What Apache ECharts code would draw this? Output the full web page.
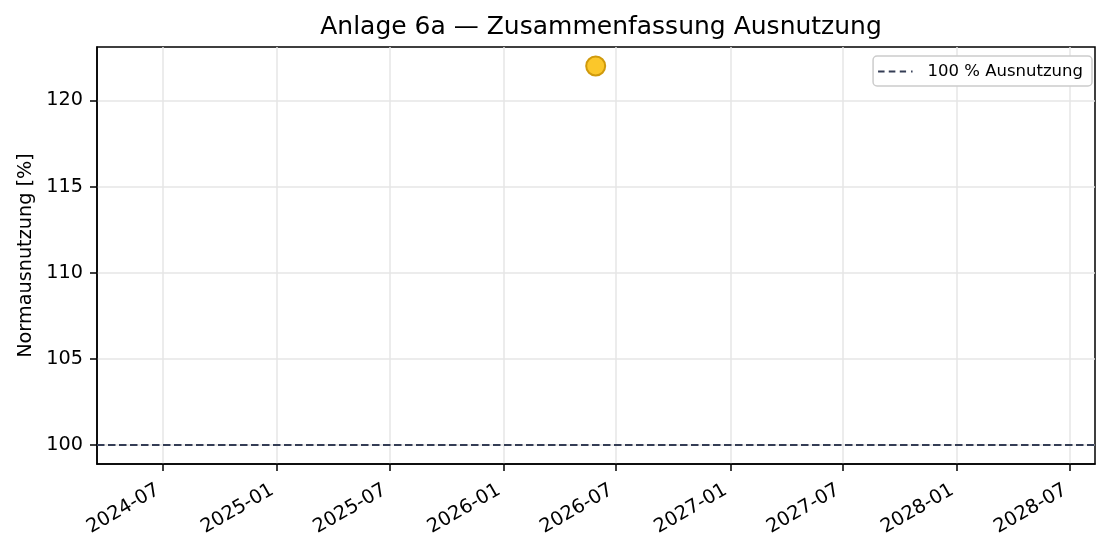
<!DOCTYPE html>
<html>
<head>
<meta charset="utf-8">
<script src="https://cdn.jsdelivr.net/npm/echarts@6/dist/echarts.min.js"></script>
<style>
html,body{margin:0;padding:0;background:#fff;}
#chart{width:1109px;height:555px;}
</style>
</head>
<body>
<div id="chart"></div>
<script>
// ---- data ----
const pointDates = ['2026-05-29'];
const pointValues = [122];
const refLineName = '100 % Ausnutzung';
const refLineValue = 100;
const xRange = ['2024-03-17', '2028-08-10'];
const yRange = [98.9, 123.1];
const xTickDates = ['2024-07-01','2025-01-01','2025-07-01','2026-01-01','2026-07-01','2027-01-01','2027-07-01','2028-01-01','2028-07-01'];
const xTickLabels = ['2024-07','2025-01','2025-07','2026-01','2026-07','2027-01','2027-07','2028-01','2028-07'];
const yTicks = [100, 105, 110, 115, 120];

const ts = d => new Date(d + 'T00:00:00Z').getTime();
const xTickTs = xTickDates.map(ts);
const FONT = 'DejaVu Sans';
const DASH_ICON = 'path://M0,0H6.5V2H0Z M10.7,0H17.3V2H10.7Z M21.7,0H28V2H21.7Z M33,0H34.5V2H33Z';

const chart = echarts.init(document.getElementById('chart'), null, {renderer: 'canvas'});
chart.setOption({
  animation: false,
  backgroundColor: '#fff',
  title: {
    text: 'Anlage 6a — Zusammenfassung Ausnutzung',
    left: 596, textAlign: 'center', top: 10,
    textStyle: {fontFamily: FONT, fontSize: 25, fontWeight: 'normal', color: '#000'}
  },
  legend: {
    data: [{name: refLineName, icon: DASH_ICON}],
    right: 17, top: 56,
    orient: 'vertical',
    padding: [7, 9, 6, 5],
    itemWidth: 34.5, itemHeight: 2,
    backgroundColor: '#fff',
    borderColor: '#cccccc', borderWidth: 1.5, borderRadius: 4,
    textStyle: {fontFamily: FONT, fontSize: 16.5, color: '#000', padding: [0, 0, 0, 10]}
  },
  grid: {left: 97, right: 14, top: 47, bottom: 91, show: true, borderColor: '#000', borderWidth: 1.5, containLabel: false},
  xAxis: {
    type: 'value',
    min: ts(xRange[0]), max: ts(xRange[1]),
    axisLine: {show: true, lineStyle: {color: '#000', width: 1.5}},
    axisTick: {show: true, customValues: xTickTs, length: 7, lineStyle: {color: '#000', width: 1.5}},
    axisLabel: {
      customValues: xTickTs,
      rotate: 30, margin: 33, verticalAlign: 'bottom',
      fontFamily: FONT, fontSize: 19.25, color: '#000',
      formatter: v => { const i = xTickTs.indexOf(v); return i >= 0 ? xTickLabels[i] : ''; }
    },
    splitLine: {show: true, lineStyle: {color: '#e6e6e6', width: 1.5}}
  },
  yAxis: {
    type: 'value',
    min: yRange[0], max: yRange[1],
    name: 'Normausnutzung [%]',
    nameLocation: 'middle', nameGap: 62,
    nameTextStyle: {fontFamily: FONT, fontSize: 19.25, color: '#000'},
    axisLine: {show: true, lineStyle: {color: '#000', width: 1.5}},
    axisTick: {show: true, customValues: yTicks, length: 7, lineStyle: {color: '#000', width: 1.5}},
    axisLabel: {customValues: yTicks, margin: 14, fontFamily: FONT, fontSize: 19.25, color: '#000'},
    splitLine: {show: true, lineStyle: {color: '#e6e6e6', width: 1.5}}
  },
  series: [
    {
      name: refLineName,
      type: 'line',
      data: [[ts(xRange[0]), refLineValue], [ts(xRange[1]), refLineValue]],
      symbol: 'none',
      lineStyle: {color: '#343d55', width: 2, type: [7.5, 3.5]},
      itemStyle: {color: '#343d55'},
      z: 3
    },
    {
      name: 'Ausnutzung',
      type: 'scatter',
      data: pointDates.map((d, i) => [ts(d), pointValues[i]]),
      symbol: 'circle', symbolSize: 19,
      itemStyle: {color: '#fbc72a', borderColor: '#d09a0c', borderWidth: 2, opacity: 1},
      z: 4
    }
  ]
});
</script>
</body>
</html>
